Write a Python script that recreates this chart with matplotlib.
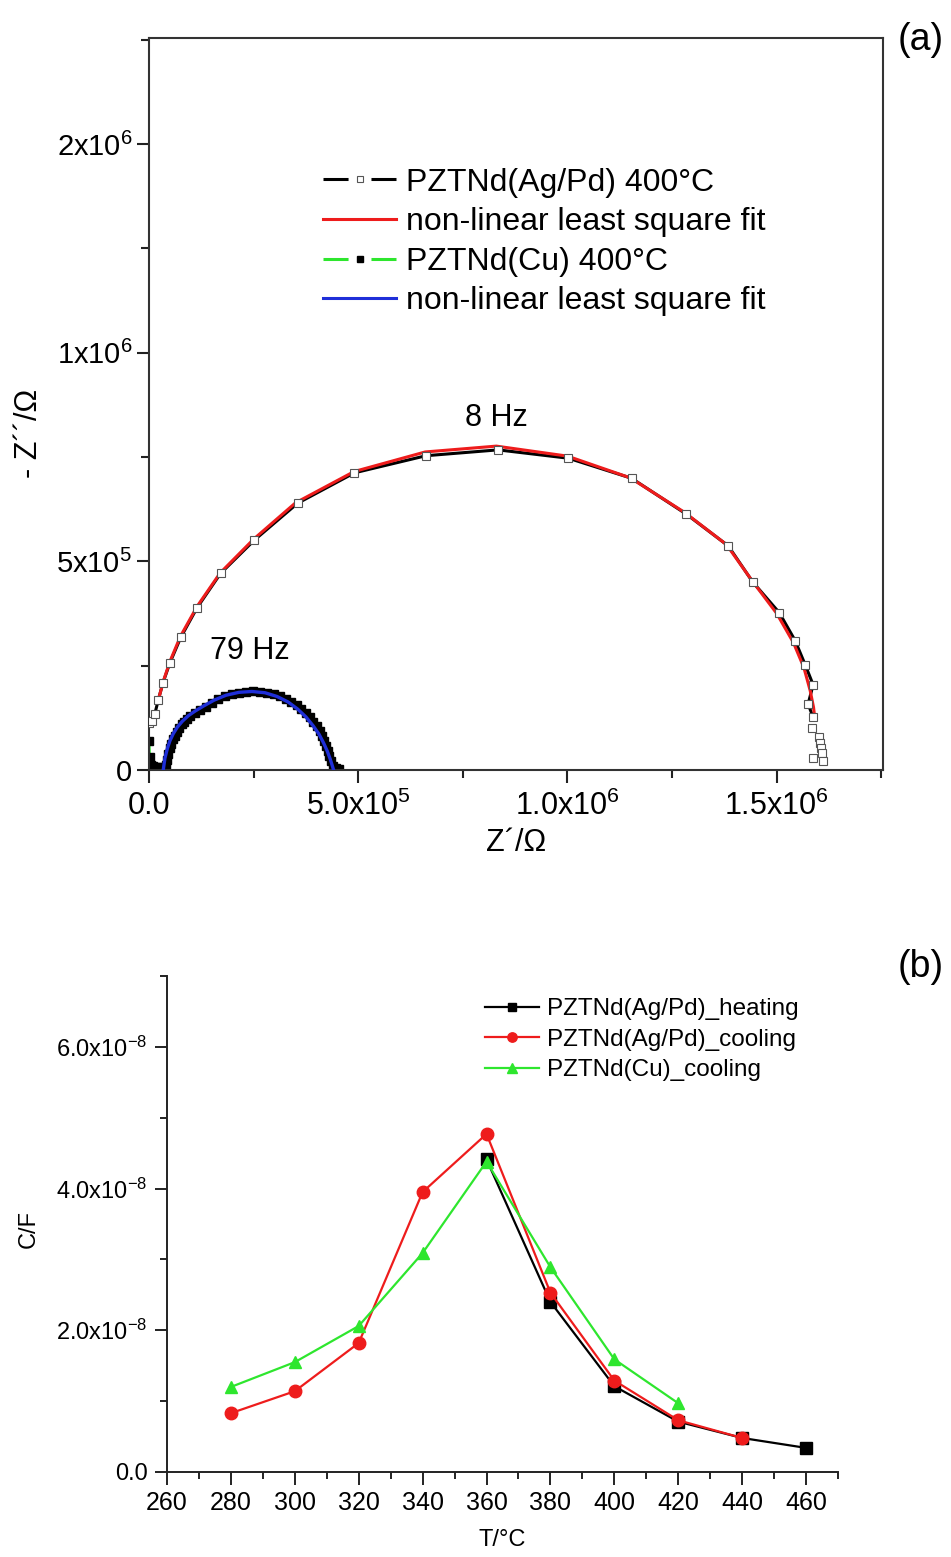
import matplotlib
matplotlib.use('Agg')
import matplotlib.pyplot as plt
from matplotlib.lines import Line2D
from matplotlib.ticker import MultipleLocator, FixedLocator
import numpy as np

plt.rcParams['font.family'] = ['Liberation Sans', 'DejaVu Sans']

# ---- panel (a): impedance spectra, values in ohm ----
agpd_x = np.array([0.001, 0.006, 0.014, 0.022, 0.033, 0.050, 0.076, 0.115, 0.171, 0.252,
                   0.355, 0.491, 0.662, 0.834, 1.002, 1.153, 1.284, 1.384, 1.443, 1.506,
                   1.544, 1.568, 1.587, 1.575, 1.587, 1.585, 1.601, 1.603, 1.607, 1.609,
                   1.587, 1.610]) * 1e6
agpd_y = np.array([0.112, 0.118, 0.135, 0.167, 0.208, 0.257, 0.318, 0.389, 0.471, 0.551,
                   0.639, 0.712, 0.753, 0.767, 0.747, 0.699, 0.613, 0.537, 0.450, 0.377,
                   0.310, 0.252, 0.204, 0.158, 0.126, 0.101, 0.080, 0.065, 0.052, 0.040,
                   0.028, 0.022]) * 1e6

agpd_fit_x = np.array([0.022, 0.035, 0.050, 0.075, 0.115, 0.170, 0.250, 0.350, 0.490, 0.660,
                       0.830, 1.000, 1.150, 1.280, 1.380, 1.440, 1.500, 1.540, 1.565, 1.580,
                       1.588, 1.591]) * 1e6
agpd_fit_y = np.array([0.167, 0.215, 0.260, 0.320, 0.392, 0.472, 0.553, 0.640, 0.715, 0.762,
                       0.776, 0.752, 0.700, 0.617, 0.540, 0.455, 0.375, 0.305, 0.245, 0.190,
                       0.150, 0.125]) * 1e6

cu_x = np.array([0.01, 0.02, 0.05, 0.10, 0.18, 0.28, 0.36, 0.40, 0.42, 0.45, 0.49, 0.53,
                 0.57, 0.61, 0.66, 0.72, 0.78, 0.84, 0.90, 0.99, 1.10, 1.22, 1.36, 1.50,
                 1.66, 1.82, 1.98, 2.14, 2.31, 2.49, 2.66, 2.82, 2.98, 3.13, 3.27, 3.40,
                 3.53, 3.64, 3.75, 3.85, 3.93, 4.01, 4.08, 4.13, 4.18, 4.23, 4.27, 4.31,
                 4.35, 4.40, 4.47, 4.55]) * 1e5
cu_y = np.array([0.70, 0.30, 0.12, 0.09, 0.07, 0.06, 0.05, 0.12, 0.24, 0.38, 0.52, 0.63,
                 0.73, 0.82, 0.92, 1.01, 1.09, 1.16, 1.22, 1.29, 1.36, 1.44, 1.52, 1.60,
                 1.70, 1.76, 1.81, 1.84, 1.86, 1.88, 1.87, 1.84, 1.81, 1.76, 1.70, 1.63,
                 1.56, 1.47, 1.36, 1.26, 1.16, 1.05, 0.93, 0.82, 0.70, 0.58, 0.46, 0.34,
                 0.22, 0.10, 0.04, 0.02]) * 1e5

cu_fit_x = np.array([0.34, 0.38, 0.44, 0.50, 0.58, 0.68, 0.80, 0.94, 1.10, 1.30, 1.55, 1.84,
                     2.15, 2.46, 2.77, 3.06, 3.32, 3.55, 3.75, 3.92, 4.06, 4.17, 4.26, 4.33,
                     4.38, 4.41]) * 1e5
cu_fit_y = np.array([0.00, 0.28, 0.52, 0.70, 0.87, 1.03, 1.17, 1.30, 1.41, 1.53, 1.67, 1.79,
                     1.86, 1.88, 1.85, 1.76, 1.63, 1.46, 1.27, 1.06, 0.86, 0.65, 0.45, 0.26,
                     0.10, 0.00]) * 1e5

a_xticks = [0, 5e5, 1e6, 1.5e6]
a_xticklabels = ['0.0', r'$\mathregular{5.0x10^{5}}$', r'$\mathregular{1.0x10^{6}}$',
                 r'$\mathregular{1.5x10^{6}}$']
a_yticks = [0, 5e5, 1e6, 1.5e6]
a_yticklabels = ['0', r'$\mathregular{5x10^{5}}$', r'$\mathregular{1x10^{6}}$',
                 r'$\mathregular{2x10^{6}}$']

# ---- panel (b): capacitance vs temperature ----
temp_heat = [360, 380, 400, 420, 440, 460]
cap_heat = [4.41, 2.40, 1.21, 0.71, 0.48, 0.34]
temp_cool = [280, 300, 320, 340, 360, 380, 400, 420, 440]
cap_cool = [0.83, 1.14, 1.82, 3.95, 4.77, 2.53, 1.29, 0.73, 0.48]
temp_cu = [280, 300, 320, 340, 360, 380, 400, 420]
cap_cu = [1.20, 1.55, 2.06, 3.09, 4.38, 2.89, 1.59, 0.97]

b_yticks = [0, 2e-8, 4e-8, 6e-8]
b_yticklabels = ['0.0', r'$\mathregular{2.0x10^{-8}}$', r'$\mathregular{4.0x10^{-8}}$',
                 r'$\mathregular{6.0x10^{-8}}$']

RED = '#ee1c1c'
GREEN = '#2ee62e'
BLUE = '#1f2fd8'

fig = plt.figure(figsize=(9.51, 15.57), dpi=100)

# ===== (a) =====
ax1 = fig.add_axes([0.1567, 0.5055, 0.7718, 0.4701])
tail = 25
ax1.plot(agpd_x[:tail], agpd_y[:tail], color='black', lw=2.2, zorder=2)
ax1.plot(agpd_x, agpd_y, ls='none', marker='s', ms=5.5, mfc='white', mec='#555555',
         mew=0.8, zorder=4)
ax1.plot(agpd_fit_x, agpd_fit_y, color=RED, lw=2.2, zorder=3)
ax1.plot(cu_x, cu_y, color=GREEN, lw=1.5, marker='s', ms=5.8, mfc='black', mec='black', zorder=2)
ax1.plot(cu_fit_x, cu_fit_y, color=BLUE, lw=2.4, zorder=3)

ax1.text(0.2413e6, 0.285e6, '79 Hz', fontsize=22, ha='center', va='center')
ax1.text(0.829e6, 0.843e6, '8 Hz', fontsize=22, ha='center', va='center')

ax1.set_xlim(0, 1.754e6)
ax1.set_ylim(0, 1.754e6)
ax1.xaxis.set_major_locator(FixedLocator(a_xticks))
ax1.set_xticklabels(a_xticklabels)
ax1.yaxis.set_major_locator(FixedLocator(a_yticks))
ax1.set_yticklabels(a_yticklabels)
ax1.xaxis.set_minor_locator(MultipleLocator(2.5e5))
ax1.yaxis.set_minor_locator(MultipleLocator(2.5e5))
ax1.tick_params(which='both', direction='out', top=False, right=False, labelsize=22,
                width=1.5, color='#222222')
ax1.tick_params(which='major', length=9, pad=6)
ax1.tick_params(axis='y', which='major', pad=3, labelsize=21)
ax1.tick_params(which='minor', length=6)
for s in ax1.spines.values():
    s.set_linewidth(1.5)
    s.set_color('#333333')
ax1.set_xlabel('Z´/Ω', fontsize=22, labelpad=4)
ax1.set_ylabel('- Z´´/Ω', fontsize=22)
ax1.yaxis.set_label_coords(-0.143, 0.46)

h1 = [Line2D([], [], color='black', lw=2.2, ls=(0, (8.2, 7.5)), marker='s', ms=5,
             mfc='white', mec='#555555', mew=0.8),
      Line2D([], [], color=RED, lw=2.2),
      Line2D([], [], color=GREEN, lw=2.2, ls=(0, (8.2, 7.5)), marker='s', ms=5,
             mfc='black', mec='black'),
      Line2D([], [], color=BLUE, lw=2.2)]
l1 = ['PZTNd(Ag/Pd) 400°C', 'non-linear least square fit', 'PZTNd(Cu) 400°C',
      'non-linear least square fit']
ax1.legend(h1, l1, loc='upper left', bbox_to_anchor=(0.237, 0.823), frameon=False,
           fontsize=23, handlelength=2.3, handletextpad=0.3, labelspacing=0.3,
           borderpad=0, borderaxespad=0, numpoints=1)

fig.text(921 / 951, 1 - 40 / 1557, '(a)', fontsize=27, ha='center', va='center')

# ===== (b) =====
ax2 = fig.add_axes([0.1756, 0.0546, 0.7056, 0.3186])
ax2.plot(temp_heat, np.array(cap_heat) * 1e-8, color='black', lw=1.6, marker='s', ms=8,
         label='PZTNd(Ag/Pd)_heating')
ax2.plot(temp_cool, np.array(cap_cool) * 1e-8, color=RED, lw=1.6, marker='o', ms=9,
         label='PZTNd(Ag/Pd)_cooling')
ax2.plot(temp_cu, np.array(cap_cu) * 1e-8, color=GREEN, lw=1.6, marker='^', ms=9,
         label='PZTNd(Cu)_cooling')

ax2.set_xlim(260, 470)
ax2.set_ylim(0, 7e-8)
ax2.set_xticks(range(260, 461, 20))
ax2.xaxis.set_minor_locator(MultipleLocator(10))
ax2.yaxis.set_major_locator(FixedLocator(b_yticks))
ax2.set_yticklabels(b_yticklabels)
ax2.yaxis.set_minor_locator(MultipleLocator(1e-8))
ax2.spines['top'].set_visible(False)
ax2.spines['right'].set_visible(False)
for s in ['left', 'bottom']:
    ax2.spines[s].set_linewidth(1.4)
    ax2.spines[s].set_color('#222222')
ax2.tick_params(which='both', direction='out', labelsize=18, width=1.4, color='#222222')
ax2.tick_params(which='major', length=9, pad=5)
ax2.tick_params(axis='y', which='major', labelsize=17)
ax2.tick_params(which='minor', length=5)
ax2.set_xlabel('T/°C', fontsize=17, labelpad=10)
ax2.set_ylabel('C/F', fontsize=17)
ax2.yaxis.set_label_coords(-0.189, 0.49)
ax2.legend(loc='upper left', bbox_to_anchor=(0.474, 0.955), frameon=False, fontsize=17.5,
           handlelength=2.2, handletextpad=0.35, labelspacing=0.35, borderpad=0,
           borderaxespad=0, markerscale=0.75)

fig.text(921 / 951, 1 - 967 / 1557, '(b)', fontsize=27, ha='center', va='center')

fig.savefig('out.png', dpi=100)
